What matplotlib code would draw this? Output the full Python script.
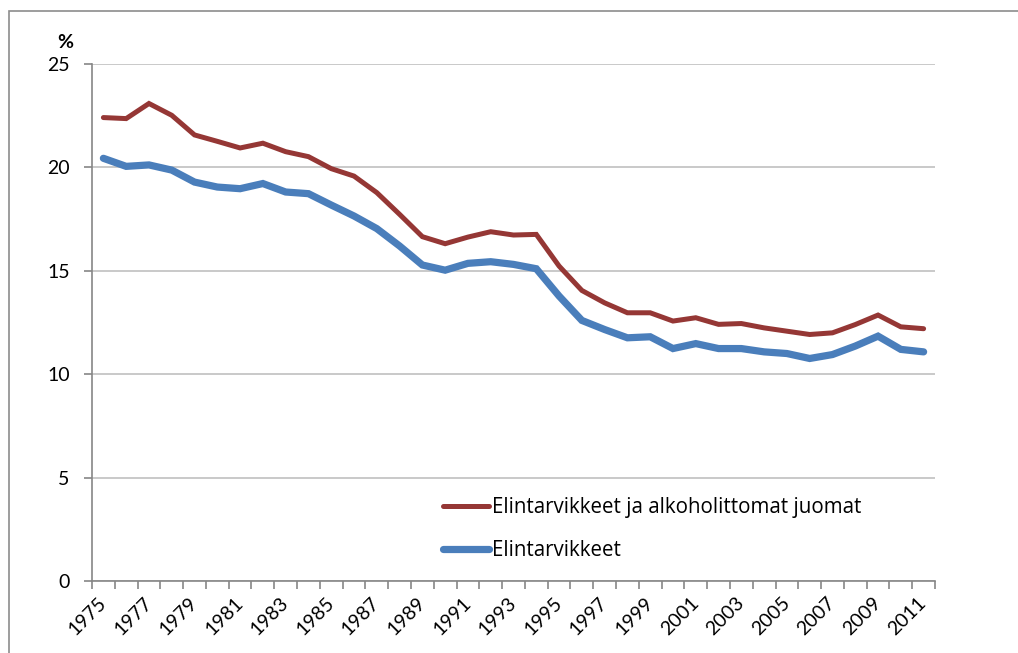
import matplotlib
matplotlib.use("Agg")
import matplotlib.pyplot as plt
from matplotlib.patches import Rectangle
import numpy as np

years = list(range(1975, 2012))
food_and_drinks = [22.41, 22.36, 23.09, 22.52, 21.57, 21.26, 20.94, 21.17, 20.76, 20.52,
                   19.94, 19.58, 18.78, 17.73, 16.65, 16.31, 16.63, 16.89, 16.73, 16.76,
                   15.23, 14.05, 13.45, 12.97, 12.97, 12.57, 12.73, 12.41, 12.45, 12.24,
                   12.08, 11.92, 12.00, 12.40, 12.86, 12.29, 12.20]
food = [20.44, 20.05, 20.12, 19.87, 19.29, 19.05, 18.97, 19.22, 18.81, 18.73,
        18.18, 17.65, 17.04, 16.20, 15.28, 15.03, 15.36, 15.44, 15.31, 15.10,
        13.78, 12.60, 12.16, 11.76, 11.81, 11.24, 11.48, 11.24, 11.24, 11.08,
        11.00, 10.76, 10.95, 11.36, 11.84, 11.20, 11.08]
series_labels = ["Elintarvikkeet ja alkoholittomat juomat", "Elintarvikkeet"]
yticks = [0, 5, 10, 15, 20, 25]

plt.rcParams['font.family'] = ['Lato', 'DejaVu Sans']
FS = 14

W, H = 1018, 653
fig = plt.figure(figsize=(W / 100, H / 100), dpi=100)
# chart-area frame
fig.patches.append(Rectangle((9 / W, -0.1), 1.2, 1 - 11 / H + 0.1, transform=fig.transFigure,
                             fill=False, edgecolor='#8c8c8c', linewidth=1.2, zorder=0))

ax = fig.add_axes([92 / W, 1 - 581 / H, (935 - 92) / W, (581 - 64) / H])
x = np.arange(len(years))
red = '#953735'
blue = '#4a7ebb'
ax.plot(x, food_and_drinks, color=red, linewidth=3.6, solid_capstyle='round',
        solid_joinstyle='miter', label=series_labels[0], zorder=3)
ax.plot(x, food, color=blue, linewidth=5.2, solid_capstyle='round',
        solid_joinstyle='miter', label=series_labels[1], zorder=3)

ax.set_xlim(-0.5, len(years) - 0.5)
ax.set_ylim(0, 25)
ax.set_yticks(yticks)
ax.set_yticklabels([str(v) for v in yticks], fontsize=FS)
ax.yaxis.grid(True, color='#c0c0c0', linewidth=1.2)
ax.set_axisbelow(True)

ax.set_xticks(x[::2])
ax.set_xticklabels([str(y) for y in years[::2]], fontsize=FS, rotation=45,
                   ha='right', va='center', rotation_mode='anchor')
ax.set_xticks(np.arange(-0.5, len(years), 1.0), minor=True)
ax.tick_params(axis='x', which='major', length=0, pad=14)
ax.tick_params(axis='x', which='minor', length=6, width=1.2, color='#868686', direction='out')
ax.tick_params(axis='y', length=6, width=1.2, color='#868686', pad=10)

for s in ['top', 'right']:
    ax.spines[s].set_visible(False)
for s in ['left', 'bottom']:
    ax.spines[s].set_color('#868686')
    ax.spines[s].set_linewidth(1.2)

ax.text(-0.032, 1.025, '%', transform=ax.transAxes, fontsize=FS, fontweight='bold',
        ha='center', va='bottom')

leg = ax.legend(loc='upper left', bbox_to_anchor=(443 / W, 1 - 497 / H),
                bbox_transform=fig.transFigure, frameon=False,
                prop={'family': ['Open Sans', 'DejaVu Sans'], 'size': 14.8},
                handlelength=2.25, handletextpad=0.12, labelspacing=1.08,
                borderpad=0, borderaxespad=0)

fig.savefig('out.png', dpi=100)
